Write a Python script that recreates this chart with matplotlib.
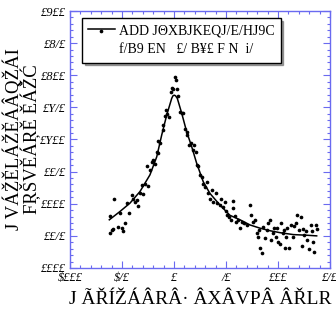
import matplotlib
matplotlib.use("Agg")
from matplotlib import pyplot as plt
from matplotlib.ticker import FixedLocator, FixedFormatter, MultipleLocator

plt.rcParams["font.family"] = ["Liberation Serif", "DejaVu Serif"]

# measured points (x, y)
data_x = [-61.5, -59.9, -61.5, -58.4, -57.4, -53.6, -51.9, -50.3, -48.8, -47.1,
          -44.9, -43.0, -40.7, -39.1, -37.5, -35.9, -34.3, -32.7, -31.1, -29.5,
          -27.9, -25.7, -24.7, -23.1, -21.4, -19.9, -18.3, -16.6, -15.1, -15.1,
          -13.5, -10.9, -10.3, -8.7, -7.7, -6.4, -4.5, -2.9, -2.2, -0.7,
          1.0, 1.9, 2.6, 3.6, 5.8, 7.4, 8.9, 10.6, 12.2, 12.8,
          14.7, 16.1, 18.0, 19.2, 21.2, 21.8, 23.4, 25.0, 26.6, 28.2,
          29.8, 31.4, 33.0, 36.2, 34.6, 37.8, 40.4, 41.6, 44.2, 44.9,
          46.8, 49.0, 50.0, 51.3, 53.2, 54.5, 56.4, 57.0, 58.7, 59.6,
          61.8, 63.5, 65.1, 67.3, 69.9, 73.1, 73.8, 75.7, 77.9, 79.5,
          81.1, 82.0, 82.7, 84.3, 85.9, 87.5, 89.1, 90.7, 92.3, 93.0,
          94.9, 96.2, 98.1, 99.3, 100.3, 101.9, 102.9, 104.5, 105.8, 107.7,
          108.9, 106.7, 110.9, 112.2, 114.1, 115.4, 117.3, 118.6, 120.5, 121.8,
          122.8, 124.3, 125.0, 126.9, 128.2, 130.1, 131.4, 132.4, 133.9, 134.6,
          136.5, 137.2]
data_y = [0.081, 0.059, 0.054, 0.060, 0.107, 0.064, 0.086, 0.063, 0.057, 0.070,
          0.101, 0.086, 0.114, 0.108, 0.102, 0.106, 0.096, 0.116, 0.129, 0.115,
          0.131, 0.159, 0.127, 0.153, 0.165, 0.168, 0.162, 0.181, 0.179, 0.197,
          0.195, 0.215, 0.223, 0.237, 0.246, 0.240, 0.235, 0.274, 0.280, 0.278,
          0.297, 0.293, 0.278, 0.268, 0.243, 0.242, 0.241, 0.217, 0.212, 0.207,
          0.191, 0.195, 0.184, 0.191, 0.181, 0.160, 0.158, 0.145, 0.142, 0.131,
          0.126, 0.134, 0.116, 0.121, 0.108, 0.103, 0.116, 0.101, 0.098, 0.107,
          0.095, 0.102, 0.088, 0.082, 0.079, 0.075, 0.105, 0.093, 0.081, 0.072,
          0.075, 0.063, 0.072, 0.070, 0.067, 0.098, 0.082, 0.072, 0.075, 0.055,
          0.049, 0.059, 0.031, 0.024, 0.064, 0.046, 0.059, 0.070, 0.075, 0.044,
          0.055, 0.062, 0.049, 0.063, 0.041, 0.038, 0.070, 0.054, 0.059, 0.048,
          0.062, 0.031, 0.031, 0.067, 0.049, 0.065, 0.070, 0.082, 0.059, 0.079,
          0.034, 0.060, 0.051, 0.057, 0.044, 0.029, 0.067, 0.057, 0.041, 0.025,
          0.067, 0.060]

# fitted curve
fit_x = [-62.2, -51.9, -42.3, -32.7, -23.1, -16.6, -11.8, -7.0, -2.2, -1.0,
         0.3, 1.5, 3.2, 7.4, 12.2, 17.0, 21.8, 28.2, 34.6, 44.2,
         53.8, 63.5, 73.1, 82.7, 92.3, 101.9, 114.7, 127.6, 137.2]
fit_y = [0.075, 0.088, 0.101, 0.119, 0.145, 0.173, 0.207, 0.238, 0.264, 0.268,
         0.269, 0.268, 0.264, 0.241, 0.212, 0.189, 0.163, 0.134, 0.116, 0.098,
         0.082, 0.075, 0.067, 0.062, 0.058, 0.055, 0.052, 0.051, 0.050]

x_ticks = [-100, -50, 0, 50, 100, 150]
x_tick_labels = ["$£££", "$/£", "£", "/£", "£££", "£/£"]
y_ticks = [0.0, 0.05, 0.10, 0.15, 0.20, 0.25, 0.30, 0.35, 0.40]
y_tick_labels = ["££££", "££/£", "££££", "££/£", "£Y££", "£Y/£", "£8££", "£8/£", "£9££"]

legend_fit = "ADD JΘXBJKEQJ/E/HJ9C"
legend_params = "f/B9 EN   £/ B¥£ F N  i/"
x_label = "J ÃŘÍŽÁÂRÂ· ÂXÂVPÂ ÂŘLR"
y_label = "J VÁŽĚLÁŽĚÁÂQŽÁI\nFŖŠVĚÁŖĚ ĚÁŽĆ"

axis_color = "#6a6af0"

fig = plt.figure(figsize=(3.36, 3.09), dpi=100)
ax = fig.add_axes([0.2083, 0.1327, 0.7738, 0.8317])

pts = ax.scatter(data_x, data_y, s=7, color="black", zorder=3, linewidths=0)
line, = ax.plot(fit_x, fit_y, color="black", lw=1.1, zorder=2)
blank, = ax.plot([], [], " ")

ax.set_xlim(-100, 150)
ax.set_ylim(0, 0.40)

ax.xaxis.set_major_locator(FixedLocator(x_ticks))
ax.xaxis.set_major_formatter(FixedFormatter(x_tick_labels))
ax.yaxis.set_major_locator(FixedLocator(y_ticks))
ax.yaxis.set_major_formatter(FixedFormatter(y_tick_labels))
ax.xaxis.set_minor_locator(MultipleLocator(10))
ax.yaxis.set_minor_locator(MultipleLocator(0.01))

for sp in ax.spines.values():
    sp.set_color(axis_color)
    sp.set_linewidth(1.0)
ax.tick_params(which="both", direction="in", top=True, right=True,
               color=axis_color, width=0.8)
ax.tick_params(which="major", length=5, labelsize=9, pad=3)
ax.tick_params(which="minor", length=2.5)
for lab in ax.get_xticklabels() + ax.get_yticklabels():
    lab.set_fontstyle("italic")

ax.set_xlabel(x_label, fontsize=14, labelpad=5)
ax.set_ylabel(y_label, fontsize=13.5, labelpad=0, linespacing=0.75)

leg = ax.legend([(line, pts), blank], [legend_fit, legend_params],
                loc="upper left", bbox_to_anchor=(0.046, 0.973),
                borderaxespad=0, fontsize=10, handlelength=1.9,
                scatterpoints=1, shadow=True, fancybox=False,
                framealpha=1, edgecolor="black", borderpad=0.45,
                labelspacing=0.45, handletextpad=0.3)
leg.get_frame().set_linewidth(1.0)

fig.savefig("out.png", dpi=100)
